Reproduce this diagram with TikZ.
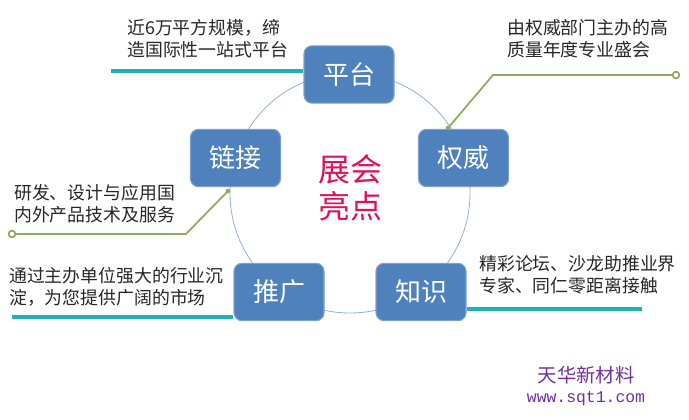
\documentclass[tikz,border=0pt]{standalone}
\usepackage{fontspec}
\usepackage{tikz}
\usetikzlibrary{arrows.meta,positioning,calc}
\newfontfamily\cjk{Noto Sans CJK SC}
\newfontfamily\urlfont{Liberation Mono}
\definecolor{BoxFill}{RGB}{79,129,189}
\definecolor{BoxBorder}{RGB}{125,160,208}
\definecolor{RingBlue}{RGB}{142,176,222}
\definecolor{LeadTeal}{RGB}{32,178,178}
\definecolor{LeadGreen}{RGB}{140,172,92}
\definecolor{HotPink}{RGB}{222,18,92}
\definecolor{MarkPurple}{RGB}{112,48,160}
\definecolor{TextDark}{RGB}{38,38,38}
\tikzset{
  ponto/.style={draw=BoxBorder, fill=BoxFill, rounded corners=6pt, line width=0.8pt,
                align=center, text=white, font=\cjk\fontsize{19.5}{22}\selectfont,
                minimum width=67.5pt, minimum height=43pt, inner sep=0pt},
  descricao/.style={align=left, text=TextDark, font=\cjk\fontsize{13.4}{16.5}\selectfont,
                inner sep=0pt, anchor=west},
  % leader lines: teal underline, green elbow with open end
  tealline/.style={LeadTeal, line width=2.4pt},
  greenline/.style={LeadGreen, line width=1.3pt},
  greenend/.style={circle, draw=LeadGreen, fill=white, line width=1.3pt, inner sep=0pt, minimum size=5pt},
  greendot/.style={circle, fill=LeadGreen, inner sep=0pt, minimum size=3.5pt},
  ring/.style={RingBlue, line width=0.6pt},
}

\begin{document}
\begin{tikzpicture}[x=0.75pt, y=-0.75pt]
  \useasboundingbox (0,0) rectangle (689,420);

  % --- Anel central ------------------------------------------------------------
  \coordinate (centro) at (350,193);
  \draw[ring] (centro) circle[radius=90pt];
  \node[text=HotPink, align=center, font=\cjk\fontsize{24}{28}\selectfont] (destaque) at (350,188) {展会\\亮点};

  % --- Cinco caixas sobre o anel ----------------------------------------------
  \node[ponto] (pingtai) at (349,74.5) {平台};
  \node[ponto] (quanwei) at (463.5,158) {权威};
  \node[ponto] (zhishi)  at (421,292)  {知识};
  \node[ponto] (tuiguang) at (279,292) {推广};
  \node[ponto] (lianjie) at (235.5,158) {链接};

  % --- Textos e linhas-guia ----------------------------------------------------
  \node[descricao] (txtpingtai) at (127,39) {近6万平方规模，缔\\造国际性一站式平台};
  \coordinate (ulpingtai) at (111,71);
  \draw[tealline] (ulpingtai) -- (ulpingtai -| pingtai.west);

  \node[descricao] (txtquanwei) at (507,39) {由权威部门主办的高\\质量年度专业盛会};
  \coordinate (qwtip) at (448,128);
  \coordinate (qwknee) at (493,75);
  \node[greenend] (qwend) at (676,75) {};
  \draw[greenline] (qwtip) -- (qwknee) -- (qwend);
  \node[greendot] at (qwtip) {};

  \node[descricao] (txtlianjie) at (14,203.5) {研发、设计与应用国\\内外产品技术及服务};
  \coordinate (ljtip) at (228,191);
  \coordinate (ljknee) at (186,234);
  \node[greenend] (ljend) at (12,234) {};
  \draw[greenline] (ljtip) -- (ljknee) -- (ljend);
  \node[greendot] at (ljtip) {};

  \node[descricao] (txttuiguang) at (9,286.5) {通过主办单位强大的行业沉\\淀，为您提供广阔的市场};
  \coordinate (ultuiguang) at (12,317);
  \draw[tealline] (ultuiguang) -- (ultuiguang -| tuiguang.west);

  \node[descricao] (txtzhishi) at (479,274.5) {精彩论坛、沙龙助推业界\\专家、同仁零距离接触};
  \coordinate (ulzhishi) at (642,309);
  \draw[tealline] (zhishi.east |- ulzhishi) -- (ulzhishi);

  % --- Marca d'agua --------------------------------------------------------------
  \node[text=MarkPurple, font=\cjk\fontsize{14.5}{16}\selectfont, inner sep=0pt] (marca) at (586,375) {天华新材料};
  \node[text=MarkPurple, font=\urlfont\fontsize{12.3}{14}\selectfont, inner sep=0pt] (site) at (586,399) {www.sqt1.com};

\end{tikzpicture}
\end{document}
